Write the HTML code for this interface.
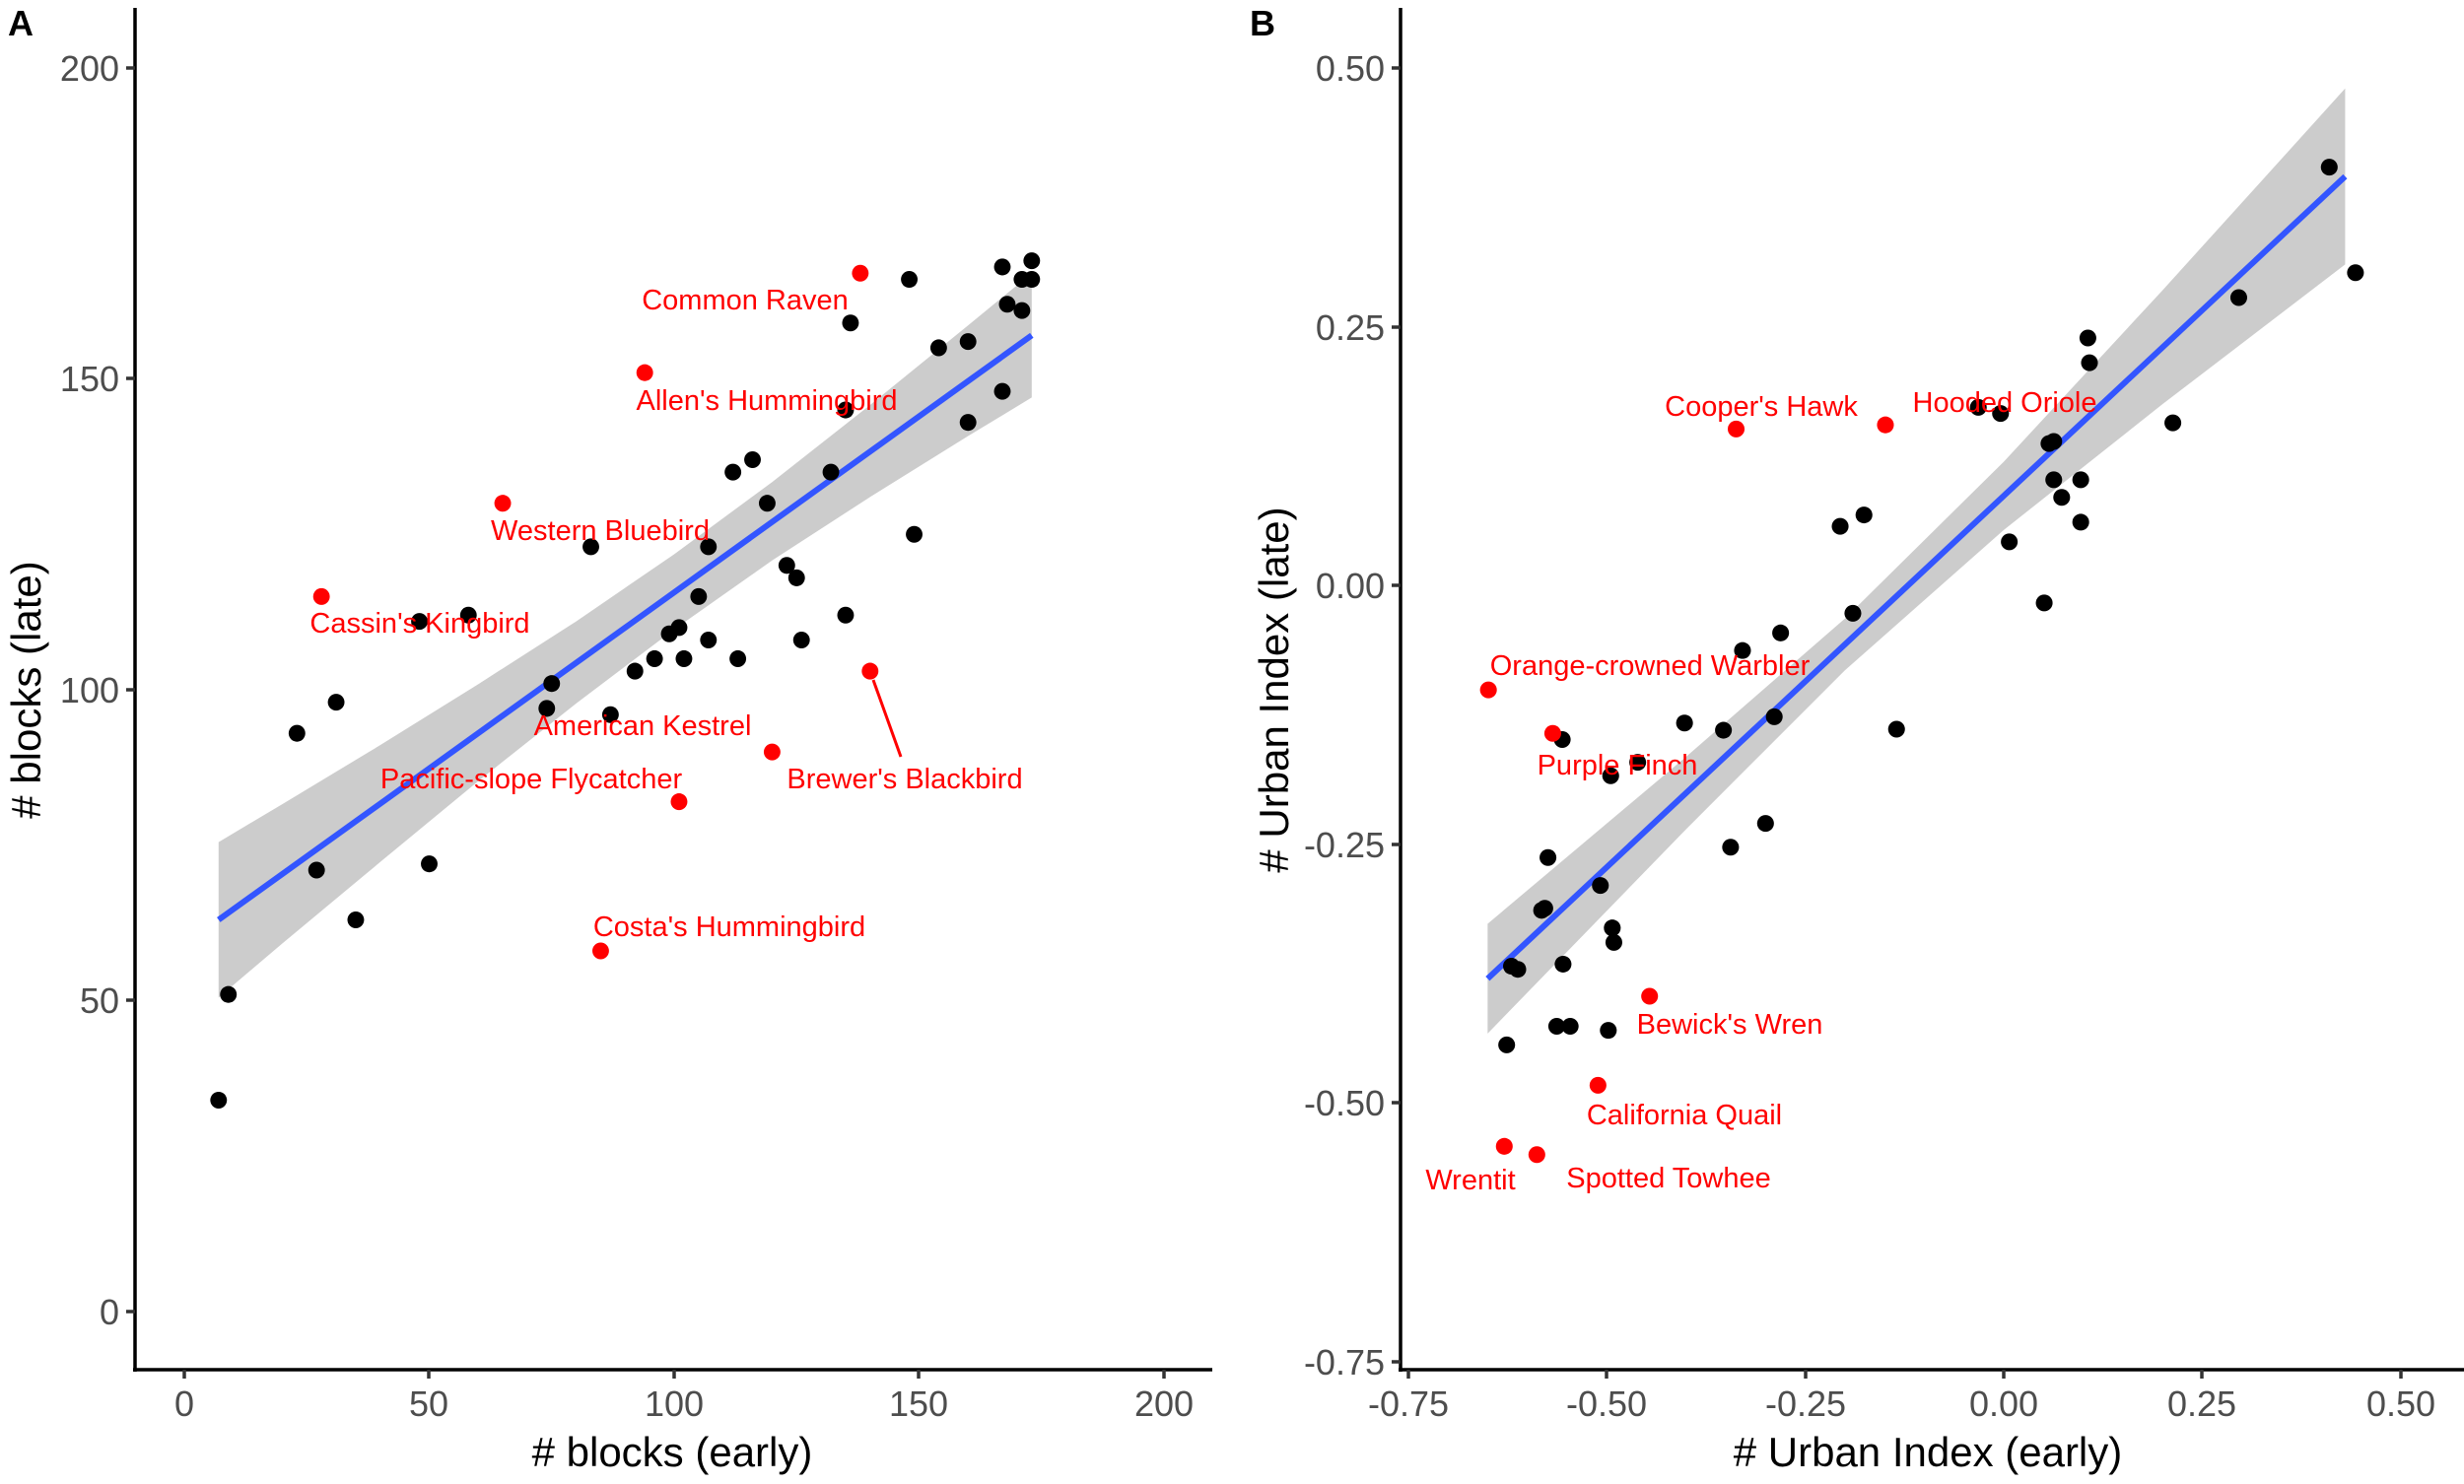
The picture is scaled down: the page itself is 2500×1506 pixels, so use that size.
<!DOCTYPE html>
<html><head><meta charset="utf-8"><style>
html,body{margin:0;padding:0;background:#fff;}
svg{display:block;font-family:"Liberation Sans",Arial,sans-serif;}
.tk{fill:#4d4d4d;font-size:36px;}
.ti{fill:#000;font-size:42px;}
.lb{fill:#ff0000;font-size:29px;text-anchor:middle;}
</style></head><body>
<svg width="2500" height="1506" viewBox="0 0 2500 1506" xmlns="http://www.w3.org/2000/svg">
<rect width="2500" height="1506" fill="#fff"/>
<!-- Panel A -->
<g transform="translate(187,1331) scale(4.97,-6.31)">
<polygon fill="#cccccc" points="7,50.5 20,59.2 40,72.3 60,85.3 80,97.8 100,109.7 120,120.8 140,131.0 160,140.8 173,147 173,167 160,158.6 140,145.8 120,133.4 100,121.8 80,111.0 60,100.9 40,91.1 20,81.6 7,75.5"/>
<line x1="7" y1="63" x2="173" y2="157" stroke="#3355ff" stroke-width="6" vector-effect="non-scaling-stroke"/>
<g fill="#000">
<ellipse cx="7" cy="34" rx="1.7" ry="1.35"/><ellipse cx="9" cy="51" rx="1.7" ry="1.35"/><ellipse cx="23" cy="93" rx="1.7" ry="1.35"/><ellipse cx="27" cy="71" rx="1.7" ry="1.35"/><ellipse cx="31" cy="98" rx="1.7" ry="1.35"/><ellipse cx="35" cy="63" rx="1.7" ry="1.35"/><ellipse cx="48" cy="111" rx="1.7" ry="1.35"/><ellipse cx="50" cy="72" rx="1.7" ry="1.35"/><ellipse cx="58" cy="112" rx="1.7" ry="1.35"/><ellipse cx="74" cy="97" rx="1.7" ry="1.35"/><ellipse cx="75" cy="101" rx="1.7" ry="1.35"/><ellipse cx="83" cy="123" rx="1.7" ry="1.35"/><ellipse cx="87" cy="96" rx="1.7" ry="1.35"/><ellipse cx="92" cy="103" rx="1.7" ry="1.35"/><ellipse cx="96" cy="105" rx="1.7" ry="1.35"/><ellipse cx="99" cy="109" rx="1.7" ry="1.35"/><ellipse cx="101" cy="110" rx="1.7" ry="1.35"/><ellipse cx="102" cy="105" rx="1.7" ry="1.35"/><ellipse cx="105" cy="115" rx="1.7" ry="1.35"/><ellipse cx="107" cy="123" rx="1.7" ry="1.35"/><ellipse cx="107" cy="108" rx="1.7" ry="1.35"/><ellipse cx="112" cy="135" rx="1.7" ry="1.35"/><ellipse cx="113" cy="105" rx="1.7" ry="1.35"/><ellipse cx="116" cy="137" rx="1.7" ry="1.35"/><ellipse cx="119" cy="130" rx="1.7" ry="1.35"/><ellipse cx="123" cy="120" rx="1.7" ry="1.35"/><ellipse cx="125" cy="118" rx="1.7" ry="1.35"/><ellipse cx="126" cy="108" rx="1.7" ry="1.35"/><ellipse cx="132" cy="135" rx="1.7" ry="1.35"/><ellipse cx="135" cy="145" rx="1.7" ry="1.35"/><ellipse cx="135" cy="112" rx="1.7" ry="1.35"/><ellipse cx="136" cy="159" rx="1.7" ry="1.35"/><ellipse cx="148" cy="166" rx="1.7" ry="1.35"/><ellipse cx="149" cy="125" rx="1.7" ry="1.35"/><ellipse cx="154" cy="155" rx="1.7" ry="1.35"/><ellipse cx="160" cy="156" rx="1.7" ry="1.35"/><ellipse cx="160" cy="143" rx="1.7" ry="1.35"/><ellipse cx="167" cy="168" rx="1.7" ry="1.35"/><ellipse cx="167" cy="148" rx="1.7" ry="1.35"/><ellipse cx="168" cy="162" rx="1.7" ry="1.35"/><ellipse cx="171" cy="166" rx="1.7" ry="1.35"/><ellipse cx="171" cy="161" rx="1.7" ry="1.35"/><ellipse cx="173" cy="169" rx="1.7" ry="1.35"/><ellipse cx="173" cy="166" rx="1.7" ry="1.35"/>
</g>
<g fill="#ff0000">
<ellipse cx="28" cy="115" rx="1.7" ry="1.35"/><ellipse cx="65" cy="130" rx="1.7" ry="1.35"/><ellipse cx="94" cy="151" rx="1.7" ry="1.35"/><ellipse cx="138" cy="167" rx="1.7" ry="1.35"/><ellipse cx="101" cy="82" rx="1.7" ry="1.35"/><ellipse cx="120" cy="90" rx="1.7" ry="1.35"/><ellipse cx="140" cy="103" rx="1.7" ry="1.35"/><ellipse cx="85" cy="58" rx="1.7" ry="1.35"/>
</g>
</g>
<line x1="886" y1="690" x2="914" y2="768" stroke="#ff0000" stroke-width="3"/>
<g class="lb">
<text x="756" y="314">Common Raven</text>
<text x="778" y="416">Allen's Hummingbird</text>
<text x="609" y="548">Western Bluebird</text>
<text x="426" y="642">Cassin's Kingbird</text>
<text x="652" y="746">American Kestrel</text>
<text x="539" y="800">Pacific-slope Flycatcher</text>
<text x="918" y="800">Brewer's Blackbird</text>
<text x="740" y="950">Costa's Hummingbird</text>
</g>
<!-- axes A -->
<line x1="137" y1="8" x2="137" y2="1392" stroke="#000" stroke-width="3.5"/>
<line x1="135" y1="1390" x2="1230" y2="1390" stroke="#000" stroke-width="3.5"/>
<g stroke="#333" stroke-width="3.5">
<line x1="128" y1="69" x2="137" y2="69"/><line x1="128" y1="384" x2="137" y2="384"/><line x1="128" y1="700" x2="137" y2="700"/><line x1="128" y1="1015" x2="137" y2="1015"/><line x1="128" y1="1331" x2="137" y2="1331"/>
<line x1="187" y1="1390" x2="187" y2="1399"/><line x1="435" y1="1390" x2="435" y2="1399"/><line x1="684" y1="1390" x2="684" y2="1399"/><line x1="932" y1="1390" x2="932" y2="1399"/><line x1="1181" y1="1390" x2="1181" y2="1399"/>
</g>
<g class="tk" text-anchor="end">
<text x="121" y="82">200</text><text x="121" y="397">150</text><text x="121" y="713">100</text><text x="121" y="1028">50</text><text x="121" y="1344">0</text>
</g>
<g class="tk" text-anchor="middle">
<text x="187" y="1437">0</text><text x="435" y="1437">50</text><text x="684" y="1437">100</text><text x="932" y="1437">150</text><text x="1181" y="1437">200</text>
</g>
<text class="ti" x="682" y="1488" text-anchor="middle"># blocks (early)</text>
<text class="ti" transform="translate(41,700) rotate(-90)" text-anchor="middle"># blocks (late)</text>
<text x="8" y="36" font-size="36" font-weight="bold">A</text>

<!-- Panel B -->
<g transform="translate(2033,594) scale(805.6,-1050.4)">
<polygon fill="#cccccc" points="-0.65,-0.433 -0.4,-0.2356 -0.2,-0.0821 0,0.0534 0.2,0.175 0.43,0.31 0.43,0.48 0.2,0.285 0,0.1194 -0.2,-0.0321 -0.4,-0.1656 -0.65,-0.327"/>
<line x1="-0.65" y1="-0.38" x2="0.43" y2="0.395" stroke="#3355ff" stroke-width="6" vector-effect="non-scaling-stroke"/>
<g fill="#000">
<ellipse cx="0.41" cy="0.404" rx="0.0106" ry="0.0081"/><ellipse cx="0.443" cy="0.302" rx="0.0106" ry="0.0081"/><ellipse cx="0.296" cy="0.278" rx="0.0106" ry="0.0081"/><ellipse cx="0.106" cy="0.239" rx="0.0106" ry="0.0081"/><ellipse cx="0.108" cy="0.215" rx="0.0106" ry="0.0081"/><ellipse cx="0.213" cy="0.157" rx="0.0106" ry="0.0081"/><ellipse cx="-0.032" cy="0.172" rx="0.0106" ry="0.0081"/><ellipse cx="-0.004" cy="0.166" rx="0.0106" ry="0.0081"/><ellipse cx="0.057" cy="0.137" rx="0.0106" ry="0.0081"/><ellipse cx="0.063" cy="0.139" rx="0.0106" ry="0.0081"/><ellipse cx="0.063" cy="0.102" rx="0.0106" ry="0.0081"/><ellipse cx="0.097" cy="0.102" rx="0.0106" ry="0.0081"/><ellipse cx="0.073" cy="0.085" rx="0.0106" ry="0.0081"/><ellipse cx="0.097" cy="0.061" rx="0.0106" ry="0.0081"/><ellipse cx="0.007" cy="0.042" rx="0.0106" ry="0.0081"/><ellipse cx="0.051" cy="-0.017" rx="0.0106" ry="0.0081"/><ellipse cx="-0.206" cy="0.057" rx="0.0106" ry="0.0081"/><ellipse cx="-0.176" cy="0.068" rx="0.0106" ry="0.0081"/><ellipse cx="-0.19" cy="-0.027" rx="0.0106" ry="0.0081"/><ellipse cx="-0.281" cy="-0.046" rx="0.0106" ry="0.0081"/><ellipse cx="-0.329" cy="-0.063" rx="0.0106" ry="0.0081"/><ellipse cx="-0.402" cy="-0.133" rx="0.0106" ry="0.0081"/><ellipse cx="-0.353" cy="-0.14" rx="0.0106" ry="0.0081"/><ellipse cx="-0.289" cy="-0.127" rx="0.0106" ry="0.0081"/><ellipse cx="-0.135" cy="-0.139" rx="0.0106" ry="0.0081"/><ellipse cx="-0.461" cy="-0.171" rx="0.0106" ry="0.0081"/><ellipse cx="-0.556" cy="-0.149" rx="0.0106" ry="0.0081"/><ellipse cx="-0.495" cy="-0.184" rx="0.0106" ry="0.0081"/><ellipse cx="-0.3" cy="-0.23" rx="0.0106" ry="0.0081"/><ellipse cx="-0.344" cy="-0.253" rx="0.0106" ry="0.0081"/><ellipse cx="-0.574" cy="-0.263" rx="0.0106" ry="0.0081"/><ellipse cx="-0.508" cy="-0.29" rx="0.0106" ry="0.0081"/><ellipse cx="-0.582" cy="-0.314" rx="0.0106" ry="0.0081"/><ellipse cx="-0.578" cy="-0.312" rx="0.0106" ry="0.0081"/><ellipse cx="-0.493" cy="-0.331" rx="0.0106" ry="0.0081"/><ellipse cx="-0.491" cy="-0.345" rx="0.0106" ry="0.0081"/><ellipse cx="-0.555" cy="-0.366" rx="0.0106" ry="0.0081"/><ellipse cx="-0.612" cy="-0.371" rx="0.0106" ry="0.0081"/><ellipse cx="-0.62" cy="-0.368" rx="0.0106" ry="0.0081"/><ellipse cx="-0.563" cy="-0.426" rx="0.0106" ry="0.0081"/><ellipse cx="-0.546" cy="-0.426" rx="0.0106" ry="0.0081"/><ellipse cx="-0.498" cy="-0.43" rx="0.0106" ry="0.0081"/><ellipse cx="-0.626" cy="-0.444" rx="0.0106" ry="0.0081"/>
</g>
<g fill="#ff0000">
<ellipse cx="-0.337" cy="0.151" rx="0.0106" ry="0.0081"/><ellipse cx="-0.149" cy="0.155" rx="0.0106" ry="0.0081"/><ellipse cx="-0.649" cy="-0.101" rx="0.0106" ry="0.0081"/><ellipse cx="-0.568" cy="-0.143" rx="0.0106" ry="0.0081"/><ellipse cx="-0.446" cy="-0.397" rx="0.0106" ry="0.0081"/><ellipse cx="-0.511" cy="-0.483" rx="0.0106" ry="0.0081"/><ellipse cx="-0.629" cy="-0.542" rx="0.0106" ry="0.0081"/><ellipse cx="-0.588" cy="-0.55" rx="0.0106" ry="0.0081"/>
</g>
</g>
<g class="lb">
<text x="1787" y="422">Cooper's Hawk</text>
<text x="2034" y="418">Hooded Oriole</text>
<text x="1674" y="685">Orange-crowned Warbler</text>
<text x="1641" y="786">Purple Finch</text>
<text x="1755" y="1049">Bewick's Wren</text>
<text x="1709" y="1141">California Quail</text>
<text x="1492" y="1207">Wrentit</text>
<text x="1693" y="1205">Spotted Towhee</text>
</g>
<line x1="1421" y1="8" x2="1421" y2="1392" stroke="#000" stroke-width="3.5"/>
<line x1="1419" y1="1390" x2="2500" y2="1390" stroke="#000" stroke-width="3.5"/>
<g stroke="#333" stroke-width="3.5">
<line x1="1412" y1="69" x2="1421" y2="69"/><line x1="1412" y1="332" x2="1421" y2="332"/><line x1="1412" y1="594" x2="1421" y2="594"/><line x1="1412" y1="857" x2="1421" y2="857"/><line x1="1412" y1="1119" x2="1421" y2="1119"/><line x1="1412" y1="1382" x2="1421" y2="1382"/>
<line x1="1429" y1="1390" x2="1429" y2="1399"/><line x1="1630" y1="1390" x2="1630" y2="1399"/><line x1="1832" y1="1390" x2="1832" y2="1399"/><line x1="2033" y1="1390" x2="2033" y2="1399"/><line x1="2234" y1="1390" x2="2234" y2="1399"/><line x1="2436" y1="1390" x2="2436" y2="1399"/>
</g>
<g class="tk" text-anchor="end">
<text x="1405" y="82">0.50</text><text x="1405" y="345">0.25</text><text x="1405" y="607">0.00</text><text x="1405" y="870">-0.25</text><text x="1405" y="1132">-0.50</text><text x="1405" y="1395">-0.75</text>
</g>
<g class="tk" text-anchor="middle">
<text x="1429" y="1437">-0.75</text><text x="1630" y="1437">-0.50</text><text x="1832" y="1437">-0.25</text><text x="2033" y="1437">0.00</text><text x="2234" y="1437">0.25</text><text x="2436" y="1437">0.50</text>
</g>
<text class="ti" x="1956" y="1488" text-anchor="middle"># Urban Index (early)</text>
<text class="ti" transform="translate(1307,700) rotate(-90)" text-anchor="middle"># Urban Index (late)</text>
<text x="1268" y="36" font-size="36" font-weight="bold">B</text>
</svg>
</body></html>
